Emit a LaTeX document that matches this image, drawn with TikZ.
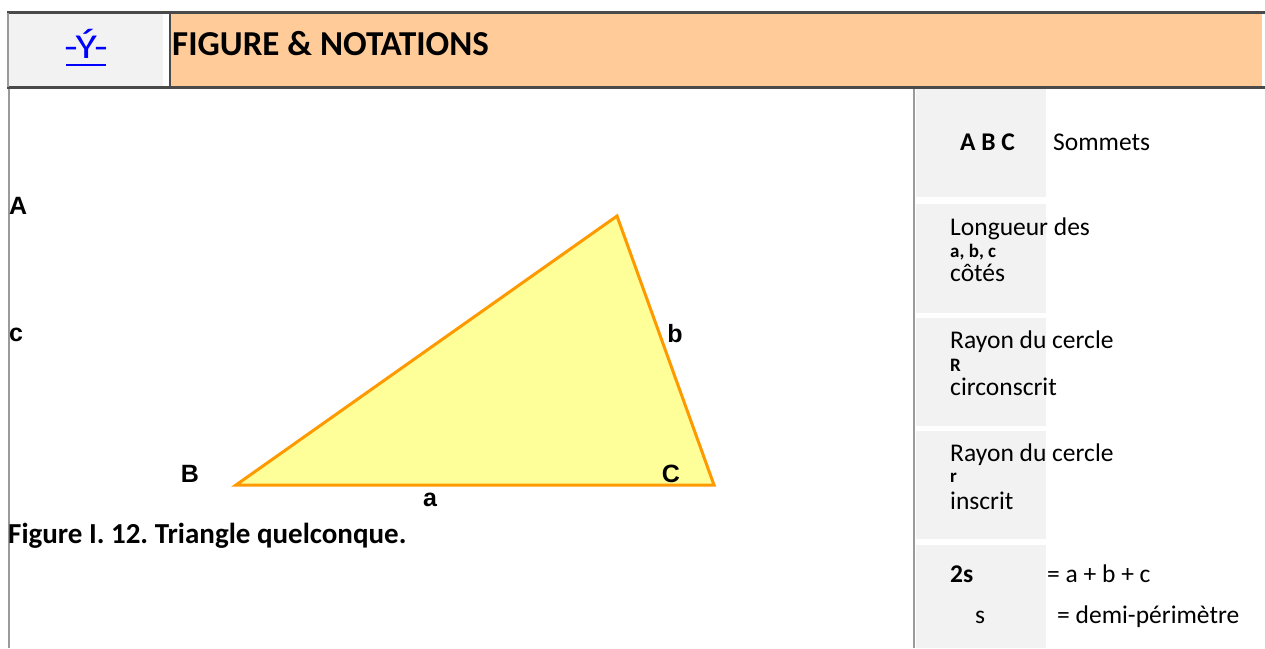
\documentclass[tikz,border=0pt]{standalone}
\usepackage{fontspec}
\setmainfont{Carlito}
\newfontfamily\arialb{Liberation Sans}[BoldFont={Liberation Sans Bold}]
\frenchspacing
\definecolor{hdrorange}{HTML}{FFCC99}
\definecolor{cellgray}{HTML}{F2F2F2}
\definecolor{darkline}{HTML}{4A4A4A}
\definecolor{midline}{HTML}{9A9A9A}
\definecolor{triyellow}{HTML}{FFFF99}
\definecolor{triorange}{HTML}{FF9900}
\definecolor{linkblue}{HTML}{0000FF}
\tikzset{
  vlabel/.style={font=\arialb\bfseries\fontsize{25}{28}\selectfont, inner sep=0pt},
  celltext/.style={font=\fontsize{25.5}{28}\selectfont, inner sep=0pt, anchor=west},
  cellsmall/.style={font=\bfseries\fontsize{19}{21}\selectfont, inner sep=0pt, anchor=west},
  cellbold/.style={font=\bfseries\fontsize{25.5}{28}\selectfont, inner sep=0pt, anchor=west},
}
\begin{document}
\begin{tikzpicture}[x=1pt,y=-1pt]
\useasboundingbox (0,0) rectangle (1265,648);
\fill[white] (0,0) rectangle (1265,648);
% header
\fill[cellgray] (8,13) rectangle (163,87);
\fill[hdrorange] (171,13) rectangle (1262,87);
\draw[darkline, line width=3pt] (7,12.5) -- (1265,12.5);
\draw[darkline, line width=3pt] (7,87.5) -- (1265,87.5);
\draw[darkline, line width=2pt] (170,13) -- (170,87);
\draw[midline, line width=2pt] (8,13) -- (8,87);
\node[font=\fontsize{35}{38}\selectfont, text=linkblue, inner sep=0pt, xscale=1.25] (link) at (86,44) {-Ý-};
\draw[linkblue, line width=2pt] (66,65) -- (106,65);
\node[font=\bfseries\fontsize{35}{38}\selectfont, anchor=west, inner sep=0pt] (title) at (172,44) {FIGURE \& NOTATIONS};
% left border
\draw[midline, line width=2pt] (9,89) -- (9,648);
% right panel
\draw[midline, line width=2pt] (914,89) -- (914,648);
\fill[cellgray] (916,89) rectangle (1046,197);
\fill[cellgray] (916,204) rectangle (1046,313);
\fill[cellgray] (916,318) rectangle (1046,426);
\fill[cellgray] (916,431) rectangle (1046,539);
\fill[cellgray] (916,545) rectangle (1046,648);
\node[cellbold] (abc) at (960,142) {A B C};
\node[celltext] (sommets) at (1053,142) {Sommets};
\node[celltext] (long) at (950,229) {Longueur des};
\node[cellsmall] (abcs) at (950,252) {a, b, c};
\node[celltext] (cotes) at (950,273) {côtés};
\node[celltext] (ray1) at (950,342) {Rayon du cercle};
\node[cellsmall] (Rr) at (950,365) {R};
\node[celltext] (circ) at (950,387) {circonscrit};
\node[celltext] (ray2) at (950,455) {Rayon du cercle};
\node[cellsmall] (rr) at (950,478) {r};
\node[celltext] (insc) at (950,501) {inscrit};
\node[cellbold] (twos) at (950,574) {2s};
\node[celltext] (eq1) at (1047,574) {= a + b + c};
\node[celltext] (s) at (975,617) {s};
\node[celltext] (eq2) at (1057,617) {= demi-périmètre};
% triangle
\coordinate (vB) at (236,485);
\coordinate (vA) at (617,216);
\coordinate (vC) at (714,485);
\filldraw[fill=triyellow, draw=triorange, line width=3pt, line join=miter] (vB) -- (vA) -- (vC) -- cycle;
\node[vlabel, anchor=west] (lA) at (9,206) {A};
\node[vlabel, anchor=west] (lc) at (9,335) {c};
\node[vlabel] (lb) at (675,334) {b};
\node[vlabel] (lB) at (190,474) {B};
\node[vlabel] (lC) at (671,474) {C};
\node[vlabel] (la) at (430,500) {a};
\node[font=\bfseries\fontsize{29}{32}\selectfont, anchor=west, inner sep=0pt] (cap) at (8,536) {Figure I. 12. Triangle quelconque.};
\end{tikzpicture}
\end{document}
